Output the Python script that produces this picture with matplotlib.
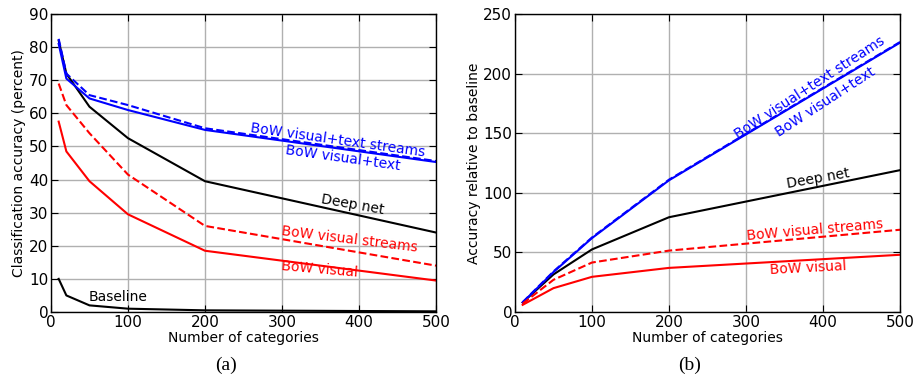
import matplotlib
matplotlib.use("Agg")
import matplotlib.pyplot as plt

# panel (a): classification accuracy (percent)
cats_a = [10, 20, 50, 100, 200, 500]
baseline_a = [10, 5, 2, 1, 0.5, 0.2]
deepnet_a = [82, 72, 62, 52.5, 39.5, 24]
vistext_a = [81, 70.5, 64.5, 61, 55, 45.3]
vistext_str_a = [82.5, 72, 65.5, 62.5, 55.5, 45.6]
visual_str_a = [69, 62.5, 54, 41.5, 26, 14]
visual_a = [57.5, 48.5, 39.5, 29.5, 18.5, 9.5]

# panel (b): accuracy relative to baseline
cats_b = [10, 50, 100, 200, 500]
deepnet_b = [8, 31.5, 52.5, 79.5, 119]
vistext_b = [8, 33.5, 62, 110.5, 226]
vistext_str_b = [8.2, 34, 62.5, 111, 226.5]
visual_str_b = [7, 27, 41.5, 51.5, 69]
visual_b = [6, 20, 29.5, 37, 48]

fig = plt.figure(figsize=(9.15, 3.79), dpi=100)
ax1 = fig.add_axes([0.0557, 0.1768, 0.4208, 0.7862])
ax2 = fig.add_axes([0.5628, 0.1768, 0.4208, 0.7862])

lw = 1.5
ax1.plot(cats_a, baseline_a, color="black", lw=lw)
ax1.plot(cats_a, deepnet_a, color="black", lw=lw)
ax1.plot(cats_a, vistext_a, color="blue", lw=lw)
ax1.plot(cats_a, vistext_str_a, color="blue", lw=lw, ls="--")
ax1.plot(cats_a, visual_str_a, color="red", lw=lw, ls="--")
ax1.plot(cats_a, visual_a, color="red", lw=lw)

ax2.plot(cats_b, deepnet_b, color="black", lw=lw)
ax2.plot(cats_b, vistext_b, color="blue", lw=lw)
ax2.plot(cats_b, vistext_str_b, color="blue", lw=lw, ls="--")
ax2.plot(cats_b, visual_str_b, color="red", lw=lw, ls="--")
ax2.plot(cats_b, visual_b, color="red", lw=lw)

fs = 10
ax1.text(373, 52, "BoW visual+text streams", color="blue", rotation=-8, fontsize=fs, ha="center", va="center")
ax1.text(379, 46.5, "BoW visual+text", color="blue", rotation=-8, fontsize=fs, ha="center", va="center")
ax1.text(392, 32.3, "Deep net", color="black", rotation=-10, fontsize=fs, ha="center", va="center")
ax1.text(387, 21.8, "BoW visual streams", color="red", rotation=-7, fontsize=fs, ha="center", va="center")
ax1.text(349, 12.9, "BoW visual", color="red", rotation=-5, fontsize=fs, ha="center", va="center")
ax1.text(87, 4.5, "Baseline", color="black", fontsize=fs, ha="center", va="center")

ax2.text(383, 188, "BoW visual+text streams", color="blue", rotation=33, fontsize=fs, ha="center", va="center")
ax2.text(403, 176, "BoW visual+text", color="blue", rotation=33, fontsize=fs, ha="center", va="center")
ax2.text(394, 112, "Deep net", color="black", rotation=10, fontsize=fs, ha="center", va="center")
ax2.text(390, 69, "BoW visual streams", color="red", rotation=5, fontsize=fs, ha="center", va="center")
ax2.text(381, 37, "BoW visual", color="red", rotation=3, fontsize=fs, ha="center", va="center")

for ax, ymax, ystep, ylab in [(ax1, 90, 10, "Classification accuracy (percent)"),
                             (ax2, 250, 50, "Accuracy relative to baseline")]:
    ax.set_xlim(0, 500)
    ax.set_ylim(0, ymax)
    ax.set_xticks(range(0, 501, 100))
    ax.set_yticks(range(0, ymax + 1, ystep))
    ax.grid(True, color="#b0b0b0", lw=1)
    ax.set_axisbelow(True)
    ax.tick_params(direction="in", top=True, right=True, labelsize=11, length=5, pad=2)
    ax.set_xlabel("Number of categories", fontsize=fs, labelpad=1)
    ax.set_ylabel(ylab, fontsize=fs, labelpad=2)
    for s in ax.spines.values():
        s.set_linewidth(1)

fig.text(0.247, 0.035, "(a)", family="Liberation Serif", fontsize=14, ha="center", va="center")
fig.text(0.754, 0.035, "(b)", family="Liberation Serif", fontsize=14, ha="center", va="center")

fig.savefig("out.png", dpi=100)
